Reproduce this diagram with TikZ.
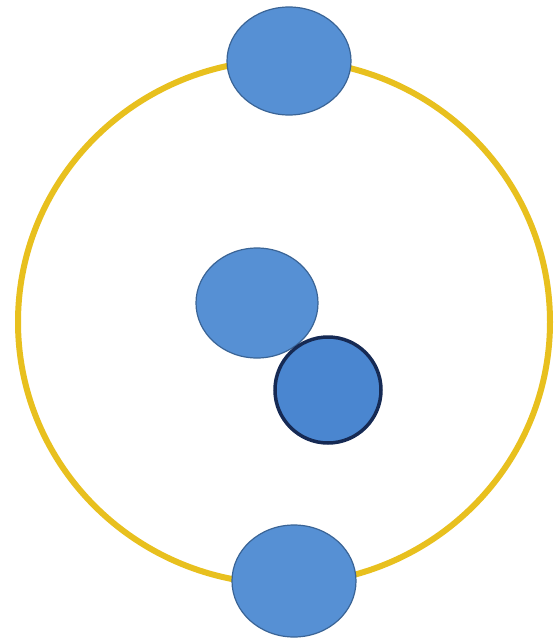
\documentclass[tikz,border=0pt]{standalone}
\usetikzlibrary{shapes.geometric}
\definecolor{ringyellow}{RGB}{232,192,30}
\definecolor{blobfill}{RGB}{86,144,212}
\definecolor{blobedge}{RGB}{58,100,150}
\definecolor{dotfill}{RGB}{74,134,208}
\definecolor{dotedge}{RGB}{22,42,84}
\tikzset{
  ring/.style={draw=ringyellow, line width=6pt},
  blob/.style={ellipse, fill=blobfill, draw=blobedge, line width=1.2pt, inner sep=0pt},
  dot/.style={circle, fill=dotfill, draw=dotedge, line width=3.5pt, inner sep=0pt, minimum size=106pt}
}
\begin{document}
\begin{tikzpicture}[x=1pt,y=-1pt]
\useasboundingbox (0,0) rectangle (559,638);
\fill[white] (0,0) rectangle (559,638);
\draw[ring] (284,322) ellipse [x radius=266pt, y radius=262pt];
\node[blob, minimum width=124pt, minimum height=108pt] (top) at (289,61) {};
\node[blob, minimum width=122pt, minimum height=110pt] (mid) at (257,303) {};
\node[dot] (dark) at (328,390) {};
\node[blob, minimum width=124pt, minimum height=112pt] (bot) at (294,581) {};
\end{tikzpicture}
\end{document}
